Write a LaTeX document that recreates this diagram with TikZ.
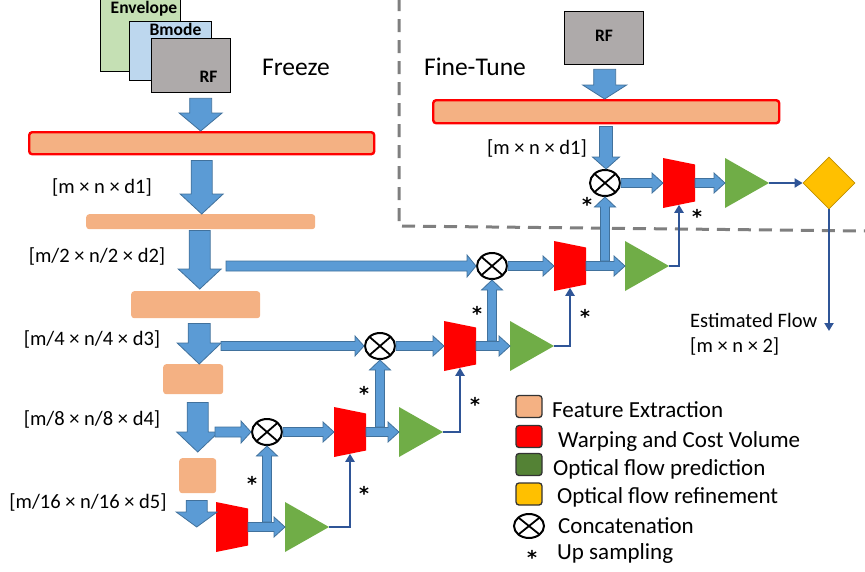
\documentclass[tikz,border=0pt]{standalone}
\usepackage{fontspec}
\setmainfont{Carlito}
\newfontfamily\starfont{DejaVu Sans}
\usetikzlibrary{calc,shapes.geometric,arrows.meta}
\definecolor{featc}{HTML}{F4B183}
\definecolor{bluef}{HTML}{5B9BD5}
\definecolor{blued}{HTML}{41719C}
\definecolor{darkb}{HTML}{2F5597}
\definecolor{greenf}{HTML}{70AD47}
\definecolor{greenl}{HTML}{548235}
\definecolor{goldf}{HTML}{FFC000}
\definecolor{goldd}{HTML}{BF9000}
\definecolor{envc}{HTML}{C5E0B4}
\definecolor{bmodec}{HTML}{BDD7EE}
\definecolor{rfc}{HTML}{AEAAAA}
\definecolor{dashc}{HTML}{7F7F7F}
\newcommand{\hbarrow}[5]{%
 \coordinate (hbS) at (#1);
 \coordinate (hbT) at (#2);
 \coordinate (hbE) at (hbT |- hbS);
 \draw[barrow] ($(hbS)+(0,-#3)$) -- ($(hbE)+(-#5,-#3)$) -- ($(hbE)+(-#5,-#4)$) -- (hbE) -- ($(hbE)+(-#5,#4)$) -- ($(hbE)+(-#5,#3)$) -- ($(hbS)+(0,#3)$) -- cycle;}
\newcommand{\vbarrow}[5]{%
 \coordinate (vbS) at (#1);
 \coordinate (vbT) at (#2);
 \coordinate (vbE) at (vbS |- vbT);
 \draw[barrow] ($(vbS)+(-#3,0)$) -- ($(vbE)+(-#3,#5)$) -- ($(vbE)+(-#4,#5)$) -- (vbE) -- ($(vbE)+(#4,#5)$) -- ($(vbE)+(#3,#5)$) -- ($(vbS)+(#3,0)$) -- cycle;}
\begin{document}
\begin{tikzpicture}[x=1pt,y=-1pt,
  barrow/.style={fill=bluef, draw=blued, line width=0.8pt, line join=miter},
  dbl/.style={draw=darkb, line width=2.8pt, -{Triangle[length=8pt,width=9pt]}},
  fe/.style={fill=featc, rounded corners=3pt, inner sep=0, anchor=north west},
  febig/.style={fe, draw=red, line width=2.4pt},
  inbox/.style={draw=black, line width=1.3pt, inner sep=0, anchor=north west},
  boldlab/.style={font=\bfseries\fontsize{17.5}{19}\selectfont, inner sep=0},
  lab/.style={font=\fontsize{20.5}{23}\selectfont, inner sep=0},
  biglab/.style={font=\fontsize{25.5}{28}\selectfont, inner sep=0},
  leglab/.style={font=\fontsize{23}{25}\selectfont, inner sep=0, anchor=west},
  star/.style={font=\starfont\bfseries\fontsize{19}{19}\selectfont, inner sep=0, anchor=north},
  cat/.style={ellipse, draw=black, line width=2pt, fill=white, minimum width=30pt, minimum height=26pt, inner sep=0,
    path picture={\draw[line width=1.8pt] (path picture bounding box.north west) -- (path picture bounding box.south east)
      (path picture bounding box.north east) -- (path picture bounding box.south west);}},
  legbox/.style={draw=black!80, line width=1.3pt, rounded corners=3pt, minimum width=26pt, minimum height=22pt, inner sep=0},
  warp/.pic={\fill[red] (0,-25) -- (32,-18.5) -- (32,18.5) -- (0,25) -- cycle;
    \coordinate (-in) at (0,0); \coordinate (-out) at (32,0); \coordinate (-bot) at (16,21.75);},
  tri/.pic={\fill[greenf] (0,-25) -- (44,0) -- (0,25) -- cycle;
    \coordinate (-in) at (0,0); \coordinate (-tip) at (44,0);}
]
\useasboundingbox (0,0) rectangle (865,571);

% dashed separation
\draw[dashc, line width=3pt, dash pattern=on 13pt off 8pt] (399,-2) -- (399,226) -- (866,231);

% input stack
\node[inbox, fill=envc, minimum width=80pt, minimum height=74pt] (env) at (100,-3) {};
\node[inbox, fill=bmodec, minimum width=82pt, minimum height=59pt] (bmode) at (129,21) {};
\node[inbox, fill=rfc, minimum width=79pt, minimum height=54pt] (rf) at (151,38) {};
\node[boldlab] (envt) at (144,9) {Envelope};
\node[boldlab] (bmodet) at (175.5,29) {Bmode};
\node[boldlab] (rft) at (208.5,77) {RF};
\node[biglab] (freeze) at (296,67) {Freeze};

% fine-tune input
\node[inbox, fill=rfc, minimum width=79pt, minimum height=53pt] (ftrf) at (564,11) {};
\node[boldlab] (ftrft) at (604,36) {RF};
\node[biglab] (finetune) at (475,67) {Fine-Tune};

% feature extraction boxes
\node[febig, minimum width=345pt, minimum height=22pt] (b1) at (28,131) {};
\node[fe, minimum width=229pt, minimum height=15pt] (b2) at (86,214) {};
\node[fe, minimum width=129pt, minimum height=27pt] (b3) at (131,291) {};
\node[fe, minimum width=60pt, minimum height=30pt] (b4) at (163,364) {};
\node[fe, minimum width=37pt, minimum height=35pt] (b5) at (179,458) {};
\node[febig, minimum width=346pt, minimum height=23pt] (ftb) at (432,99) {};

% labels
\node[lab] (d1) at (102,187) {[m × n × d1]};
\node[lab] (d2) at (97,256) {[m/2 × n/2 × d2]};
\node[lab] (d3) at (92,339) {[m/4 × n/4 × d3]};
\node[lab] (d4) at (92,419) {[m/8 × n/8 × d4]};
\node[lab] (d5) at (88,502) {[m/16 × n/16 × d5]};
\node[lab] (fd1) at (537,148) {[m × n × d1]};
\node[lab, anchor=west] (ef) at (690,320) {Estimated Flow};
\node[lab, anchor=west] (ef2) at (690,346) {[m × n × 2]};

% warping / prediction blocks
\pic (T1) at (663,183) {warp};
\pic (G1) at (725,183) {tri};
\pic (T2) at (554,266) {warp};
\pic (G2) at (625,266) {tri};
\pic (T3) at (444,346) {warp};
\pic (G3) at (510,346) {tri};
\pic (T4) at (334,432) {warp};
\pic (G4) at (399,432) {tri};
\pic (T5) at (216,527) {warp};
\pic (G5) at (285,527) {tri};

% concatenation
\node[cat] (C1) at (605,183) {};
\node[cat] (C2) at (492,266) {};
\node[cat] (C3) at (380,346) {};
\node[cat] (C4) at (267,432) {};

% refinement
\node[diamond, fill=goldf, draw=goldd, line width=0.8pt, minimum width=52pt, minimum height=52pt, inner sep=0] (D) at (829,183) {};
\coordinate (flowEnd) at (829,331);

% feature pyramid arrows
\vbarrow{$(rf.south)+(9.5,5)$}{b1.north}{11}{21.5}{-18}
\vbarrow{$(b1.south)+(0,5)$}{b2.north}{10.5}{21.5}{-20}
\vbarrow{$(b2.south)+(-1,1)$}{$(b3.north)+(0,-2)$}{10.5}{21.5}{-20}
\vbarrow{$(b3.south)+(3.5,5)$}{b4.north}{11}{22}{-21}
\vbarrow{$(b4.south)+(4.5,8)$}{$(b5.north)+(0,-6)$}{10.5}{21}{-20}
\vbarrow{$(b5.south)+(-1,7)$}{T5-in}{10.5}{20.5}{-15}

% fine-tune arrows
\vbarrow{$(ftrf.south)+(0.5,4)$}{ftb.north}{11}{22}{-14}
\vbarrow{$(C1 |- ftb.south)+(1,2)$}{C1.north}{6.5}{13.5}{-12}

% horizontal skip arrows
\hbarrow{226,266}{C2.west}{5}{11}{9}
\hbarrow{221,346}{C3.west}{4.5}{10}{9}
\hbarrow{215,432}{C4.west}{5}{11}{10}

% circle -> warp
\hbarrow{C1.east}{T1-in}{4.5}{10}{11}
\hbarrow{C2.east}{T2-in}{4.5}{10}{11}
\hbarrow{C3.east}{T3-in}{4.5}{10}{11}
\hbarrow{C4.east}{T4-in}{4.5}{10}{11}

% warp -> prediction
\hbarrow{T1-out}{G1-in}{4.5}{10}{11}
\hbarrow{T2-out}{G2-in}{4.5}{10}{11}
\hbarrow{T3-out}{G3-in}{4.5}{10}{11}
\hbarrow{T4-out}{G4-in}{4.5}{10}{11}
\hbarrow{T5-out}{G5-in}{4.5}{10}{11}

% up-sampling arrows
\vbarrow{$(C1 |- T2-out)+(0,-5)$}{C1.south}{4.5}{10.5}{10}
\vbarrow{$(C2 |- T3-out)+(0,-5)$}{C2.south}{4.5}{10.5}{10}
\vbarrow{$(C3 |- T4-out)+(0,-5)$}{C3.south}{4.5}{10.5}{10}
\vbarrow{$(C4 |- T5-out)+(0,-5)$}{C4.south}{4.5}{10.5}{10}

% flow up-sampling connectors
\draw[dbl] (G2-tip) -| (T1-bot);
\draw[dbl] (G3-tip) -| (T2-bot);
\draw[dbl] (G4-tip) -| (T3-bot);
\draw[dbl] (G5-tip) -| (T4-bot);
\draw[dbl] (G1-tip) -- (D.west);
\draw[dbl] (D.south) -- (flowEnd);

% stars
\node[star] (s1) at (587,197) {*};
\node[star] (s2) at (697,209) {*};
\node[star] (s3) at (477,306) {*};
\node[star] (s4) at (585,309) {*};
\node[star] (s5) at (364,386) {*};
\node[star] (s6) at (475,397) {*};
\node[star] (s7) at (252,476) {*};
\node[star] (s8) at (364,486) {*};

% legend
\node[legbox, fill=featc] (l1) at (529,406.5) {};
\node[legbox, fill=red] (l2) at (529,436.5) {};
\node[legbox, fill=greenl] (l3) at (529,464.5) {};
\node[legbox, fill=goldf] (l4) at (529,494) {};
\node[cat, minimum width=30pt, minimum height=24pt] (l5) at (529,526) {};
\node[star] (l6) at (532,550) {*};
\node[leglab] (t1) at (552,410) {Feature Extraction};
\node[leglab] (t2) at (558,441) {Warping and Cost Volume};
\node[leglab] (t3) at (553,469) {Optical flow prediction};
\node[leglab] (t4) at (557,497) {Optical flow refinement};
\node[leglab] (t5) at (558,526) {Concatenation};
\node[leglab] (t6) at (557,553) {Up sampling};
\end{tikzpicture}
\end{document}
